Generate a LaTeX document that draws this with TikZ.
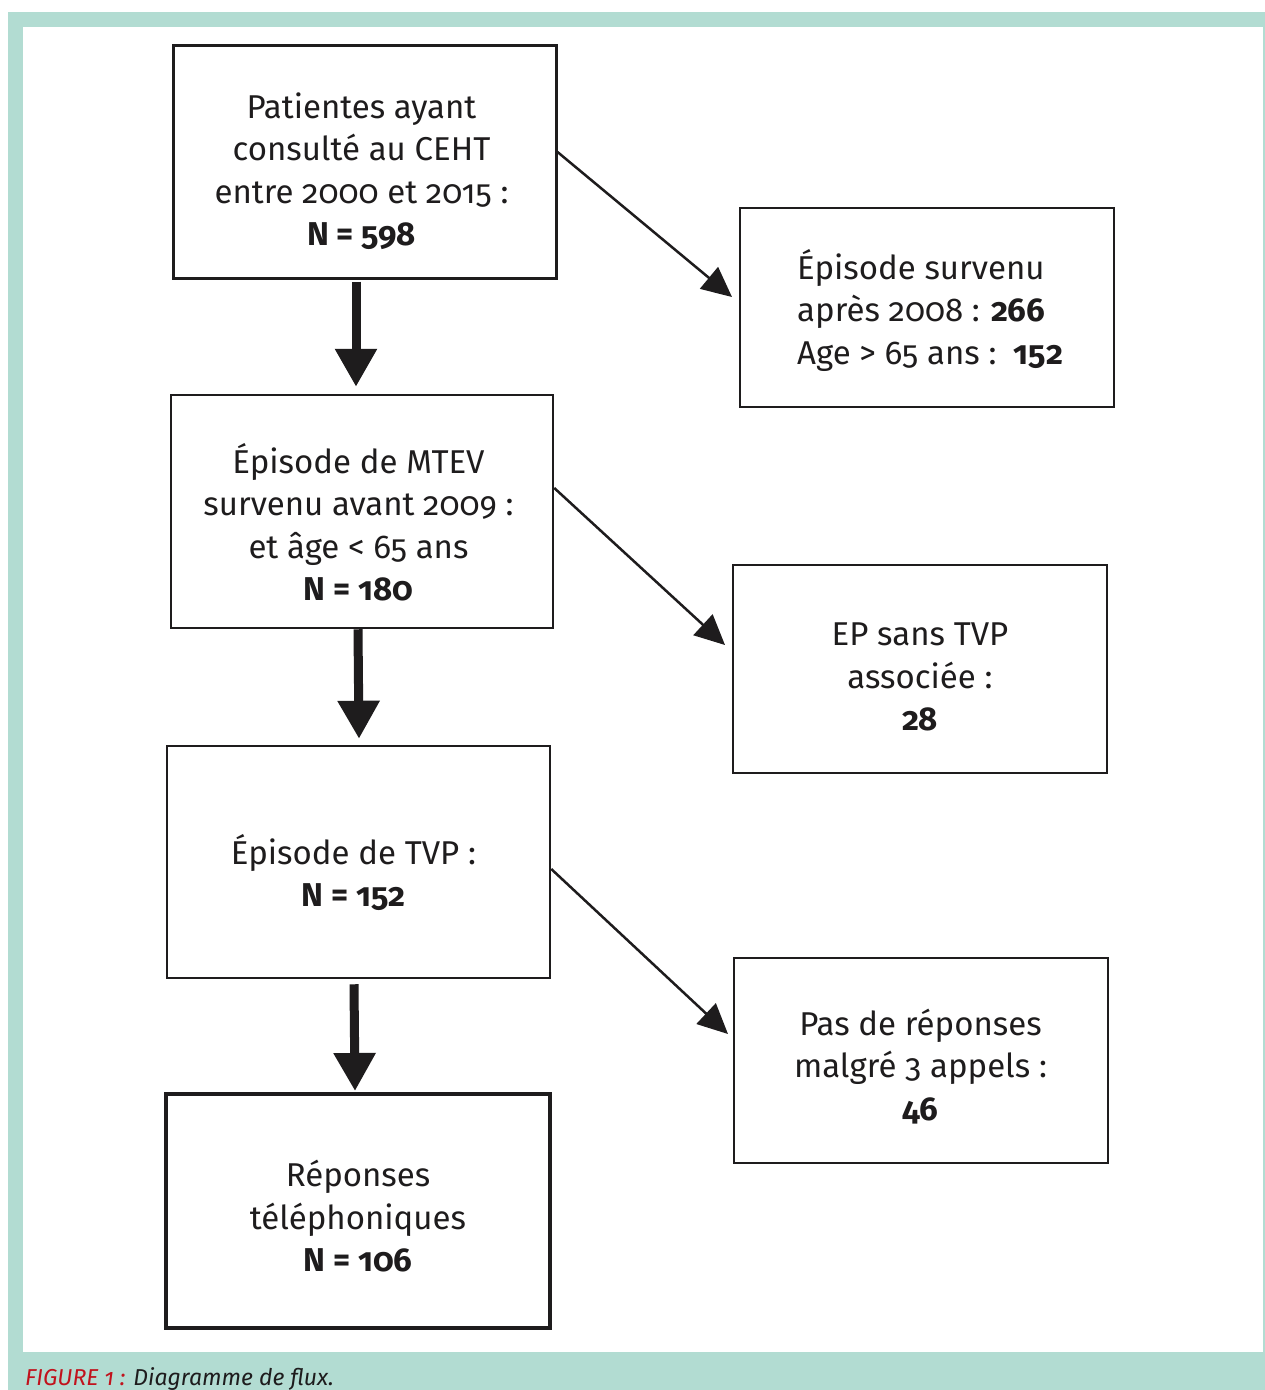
\documentclass[tikz,border=0pt]{standalone}
\usepackage{fontspec}
\setmainfont{Fira Sans}[Numbers=OldStyle]
\usetikzlibrary{arrows.meta}
\definecolor{bgteal}{HTML}{B2DCD2}
\definecolor{capred}{HTML}{C1121C}
\definecolor{ink}{HTML}{1E1C1D}
\begin{document}
\begin{tikzpicture}[x=1pt,y=-1pt,
  box/.style={draw=ink, inner sep=0pt, rectangle},
  txt/.style={text=ink, inner sep=0pt, align=center, font=\fontsize{33}{42.5}\selectfont},
  bigarrow/.style={draw=ink, line width=9pt, -{Triangle[width=40pt,length=38pt]}},
  thinarrow/.style={draw=ink, line width=2.5pt, -{Triangle[width=28pt,length=30pt]}}
]
\useasboundingbox (0,0) rectangle (1265,1390);
\fill[white] (0,0) rectangle (1265,1390);
\fill[bgteal] (8,12) rectangle (1265,1390);
\fill[white] (23,27) rectangle (1263,1352);

% boxes
\node[box, line width=3pt, minimum width=383pt, minimum height=233pt] (b1) at (364.5,161.5) {};
\node[box, line width=2pt, minimum width=374pt, minimum height=199pt] (b2) at (927,307.5) {};
\node[box, line width=2.5pt, minimum width=382pt, minimum height=233pt] (b3) at (362,511.5) {};
\node[box, line width=2pt, minimum width=374pt, minimum height=208pt] (b4) at (920,669) {};
\node[box, line width=2.5pt, minimum width=383pt, minimum height=232pt] (b5) at (358.5,862) {};
\node[box, line width=2pt, minimum width=374pt, minimum height=205pt] (b6) at (921,1060.5) {};
\node[box, line width=4pt, minimum width=384pt, minimum height=234pt] (b7) at (358,1211) {};

% texts
\node[txt] (t1) at (361.5,171) {Patientes ayant\\consulté au CEHT\\entre 2000 et 2015 :\\\textbf{N = 598}};
\node[txt, align=left, anchor=west] (t2) at (797,310) {Épisode survenu\\après 2008 : \textbf{266}\\Age > 65 ans :\ \ \textbf{152}};
\node[txt] (t3) at (358.5,522) {Épisode de MTEV\\survenu avant 2009 :\\et âge < 65 ans\\\textbf{N = 180}};
\node[txt] (t4) at (920,677) {EP sans TVP\\associée :\\\textbf{28}};
\node[txt] (t5) at (353.5,872.5) {Épisode de TVP :\\\textbf{N = 152}};
\node[txt] (t6) at (920.5,1066.5) {Pas de réponses\\malgré 3 appels :\\\textbf{46}};
\node[txt] (t7) at (358,1216.5) {Réponses\\téléphoniques\\\textbf{N = 106}};

% vertical arrows
\draw[bigarrow] ([xshift=-8.5pt,yshift=-2pt]b1.south) -- ([xshift=-6pt,yshift=7pt]b3.north);
\draw[bigarrow] ([xshift=-4pt]b3.south) -- ([xshift=0.5pt,yshift=6pt]b5.north);
\draw[bigarrow] ([xshift=-4.5pt,yshift=-5pt]b5.south) -- ([xshift=-3pt,yshift=1pt]b7.north);

% diagonal arrows
\draw[thinarrow] ([yshift=9.5pt]b1.east) -- ([xshift=-7pt,yshift=10.5pt]b2.west);
\draw[thinarrow] ([yshift=23.5pt]b3.east) -- ([xshift=-7pt,yshift=24pt]b4.west);
\draw[thinarrow] ([yshift=-7pt]b5.east) -- ([xshift=-5pt,yshift=26.5pt]b6.west);

% caption
\node[anchor=base west, inner sep=0pt, text=ink, font=\fontsize{23}{28}\selectfont\itshape] (cap) at (25,1385) {{\color{capred}FIGURE 1 :} Diagramme de flux.};
\end{tikzpicture}
\end{document}
